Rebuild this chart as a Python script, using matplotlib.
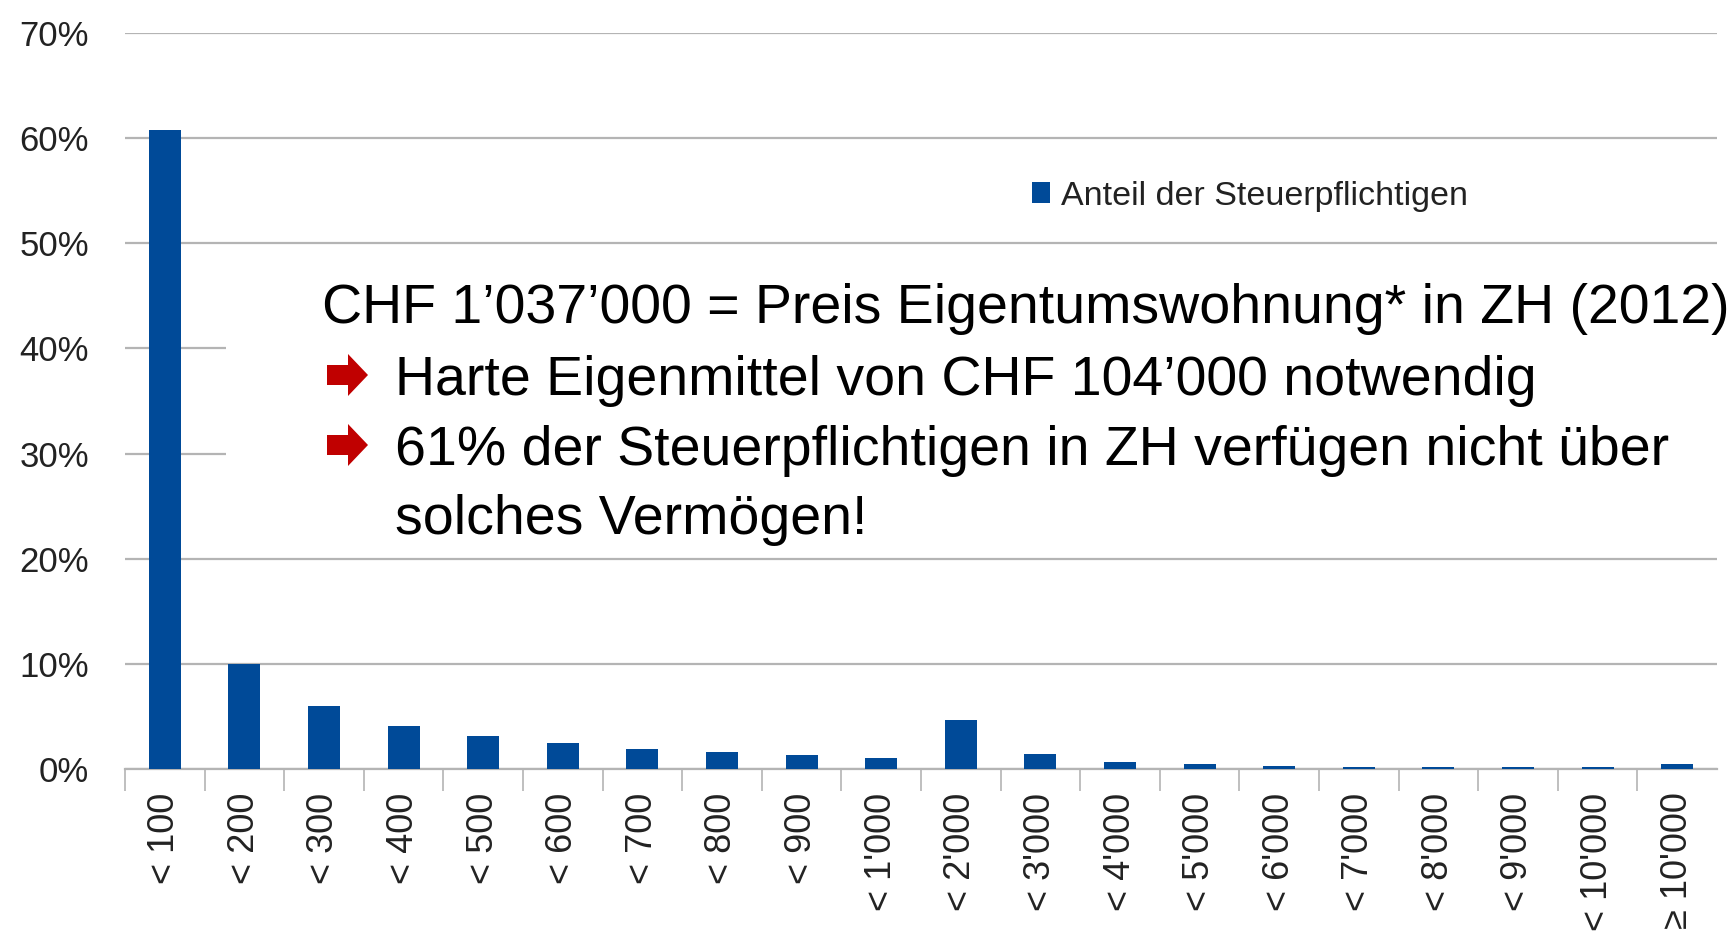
import numpy as np
import matplotlib.pyplot as plt
from matplotlib.patches import Rectangle, Polygon

# Vermoegen in 1'000 CHF, Anteil der Steuerpflichtigen in %
kategorien = ["< 100", "< 200", "< 300", "< 400", "< 500", "< 600", "< 700", "< 800",
              "< 900", "< 1'000", "< 2'000", "< 3'000", "< 4'000", "< 5'000", "< 6'000",
              "< 7'000", "< 8'000", "< 9'000", "< 10'000", "\u2265 10'000"]
anteil = [60.8, 10.0, 6.0, 4.1, 3.1, 2.5, 1.9, 1.6, 1.3, 1.05,
          4.7, 1.4, 0.7, 0.45, 0.3, 0.2, 0.15, 0.15, 0.15, 0.45]
y_ticks = [0, 10, 20, 30, 40, 50, 60, 70]

text_zeilen = ["CHF 1\u2019037\u2019000 = Preis Eigentumswohnung* in ZH (2012)",
               "Harte Eigenmittel von CHF 104\u2019000 notwendig",
               "61% der Steuerpflichtigen in ZH verf\u00fcgen nicht \u00fcber",
               "solches Verm\u00f6gen!"]

W, H = 1731, 938
blau = '#004a98'
grau = '#b4b4b4'
plt.rcParams['font.family'] = ['Liberation Sans', 'DejaVu Sans']

fig = plt.figure(figsize=(W / 100, H / 100), dpi=100)
ax = fig.add_axes([125 / W, 1 - 769 / H, (1717 - 125) / W, (769 - 33) / H])

x = np.arange(len(kategorien))
ax.bar(x, anteil, width=0.4, color=blau, zorder=3, label='Anteil der Steuerpflichtigen')

ax.set_ylim(0, 70)
ax.set_xlim(-0.5, len(kategorien) - 0.5)
ax.set_yticks(y_ticks)
ax.set_yticklabels([f"{v}%" for v in y_ticks])
ax.yaxis.grid(True, color=grau, linewidth=1.6, zorder=0)
ax.tick_params(axis='y', length=0, pad=26, labelsize=25, labelcolor='#222222')

ax.set_xticks(x)
ax.set_xticklabels(kategorien, rotation=90, va='top', ha='center')
ax.set_xticks(np.arange(-0.5, len(kategorien) - 1), minor=True)
ax.tick_params(axis='x', which='major', length=0, pad=17, labelsize=26, labelcolor='#222222')
ax.tick_params(axis='x', which='minor', length=16, width=1.2, color=grau)

for s in ['top', 'right', 'left']:
    ax.spines[s].set_visible(False)
ax.spines['bottom'].set_color(grau)
ax.spines['bottom'].set_linewidth(1.6)

fig.legend(loc='center left', bbox_to_anchor=(1001 / W, 1 - 196 / H), frameon=False,
           fontsize=24.5, handlelength=0.55, handleheight=0.55, handletextpad=0.3,
           labelcolor='#222222')

# weisser Kasten hinter dem Text
fig.patches.append(Rectangle((226 / W, 1 - 550 / H), 1 - 226 / W, 300 / H,
                             transform=fig.transFigure, facecolor='white',
                             edgecolor='none', zorder=5))

def fx(px):
    return px / W

def fy(py):
    return 1 - py / H

zeilen_x = [322, 395, 395, 395]
zeilen_y = [323, 395, 465, 534]
for t, zx, zy in zip(text_zeilen, zeilen_x, zeilen_y):
    fig.text(fx(zx), fy(zy), t, fontsize=40, va='baseline', ha='left',
             color='black', zorder=6)

# rote Pfeile
for cy in [375, 445]:
    x0, x1, xm = 327, 368, 348
    pts = [(x0, cy - 10), (xm, cy - 10), (xm, cy - 21), (x1, cy),
           (xm, cy + 21), (xm, cy + 10), (x0, cy + 10)]
    fig.patches.append(Polygon([(fx(a), fy(b)) for a, b in pts], closed=True,
                               transform=fig.transFigure, facecolor='#c00000',
                               edgecolor='none', zorder=6))

fig.savefig('out.png', dpi=100)
